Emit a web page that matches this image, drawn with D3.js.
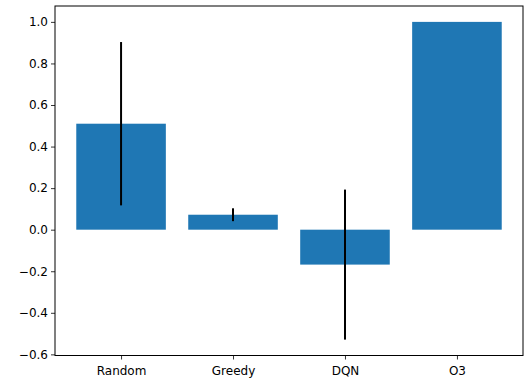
<!DOCTYPE html>
<html>
<head>
<meta charset="utf-8">
<script src="https://cdn.jsdelivr.net/npm/d3@7"></script>
<style>
  html, body { margin: 0; padding: 0; background: #fff; }
  svg { display: block; }
  text { font-family: "DejaVu Sans", sans-serif; }
</style>
</head>
<body>
<svg id="chart" width="524" height="380"></svg>
<script>
// Mean score per agent and its spread
const categories = ["Random", "Greedy", "DQN", "O3"];
const means = [0.51, 0.072, -0.168, 1.0];
const errors = [0.393, 0.031, 0.361, 0];
const yTicks = [-0.6, -0.4, -0.2, 0.0, 0.2, 0.4, 0.6, 0.8, 1.0];

const W = 524, H = 380;
const plot = { left: 55, right: 523, top: 6, bottom: 355.5 };
const barColor = "#1f77b4";

const svg = d3.select("#chart");

// Auto limits with 5% padding, as for a plain bar chart
const lo = d3.min(means.map((m, i) => m - errors[i]).concat([0]));
const hi = d3.max(means.map((m, i) => m + errors[i]).concat([0]));
const pad = (hi - lo) * 0.05;

const y = d3.scaleLinear()
  .domain([lo - pad, hi + pad])
  .range([plot.bottom, plot.top]);

const barW = 0.8;
const xPad = (categories.length - 1 + barW) * 0.05;
const x = d3.scaleLinear()
  .domain([-barW / 2 - xPad, categories.length - 1 + barW / 2 + xPad])
  .range([plot.left, plot.right]);

// Bars
svg.append("g").selectAll("rect")
  .data(means)
  .join("rect")
  .attr("x", (d, i) => x(i - barW / 2))
  .attr("width", (d, i) => x(i + barW / 2) - x(i - barW / 2))
  .attr("y", d => y(Math.max(0, d)))
  .attr("height", d => Math.abs(y(d) - y(0)))
  .attr("fill", barColor);

// Error bars
svg.append("g").selectAll("line")
  .data(means.map((m, i) => ({ m, e: errors[i], i })).filter(d => d.e > 0))
  .join("line")
  .attr("x1", d => x(d.i))
  .attr("x2", d => x(d.i))
  .attr("y1", d => y(d.m - d.e))
  .attr("y2", d => y(d.m + d.e))
  .attr("stroke", "#000")
  .attr("stroke-width", 2);

// Axes
const yAxis = d3.axisLeft(y)
  .tickValues(yTicks)
  .tickFormat(d => d3.format(".1f")(d).replace("-", "\u2212"))
  .tickSizeInner(4)
  .tickSizeOuter(0)
  .tickPadding(3);

const xAxis = d3.axisBottom(x)
  .tickValues(categories.map((c, i) => i))
  .tickFormat(i => categories[i])
  .tickSizeInner(4)
  .tickSizeOuter(0)
  .tickPadding(6.5);

const gy = svg.append("g")
  .attr("transform", `translate(${plot.left},0)`)
  .call(yAxis);
const gx = svg.append("g")
  .attr("transform", `translate(0,${plot.bottom})`)
  .call(xAxis);

[gx, gy].forEach(g => {
  g.select(".domain").remove();
  g.selectAll(".tick line").attr("stroke", "#000").attr("stroke-width", 0.8);
  g.selectAll(".tick text").attr("fill", "#000").attr("font-size", "12px")
    .attr("font-family", "DejaVu Sans, sans-serif");
});

// Frame around the plotting area
svg.append("rect")
  .attr("x", plot.left)
  .attr("y", plot.top)
  .attr("width", plot.right - plot.left)
  .attr("height", plot.bottom - plot.top)
  .attr("fill", "none")
  .attr("stroke", "#000")
  .attr("stroke-width", 1);
</script>
</body>
</html>
